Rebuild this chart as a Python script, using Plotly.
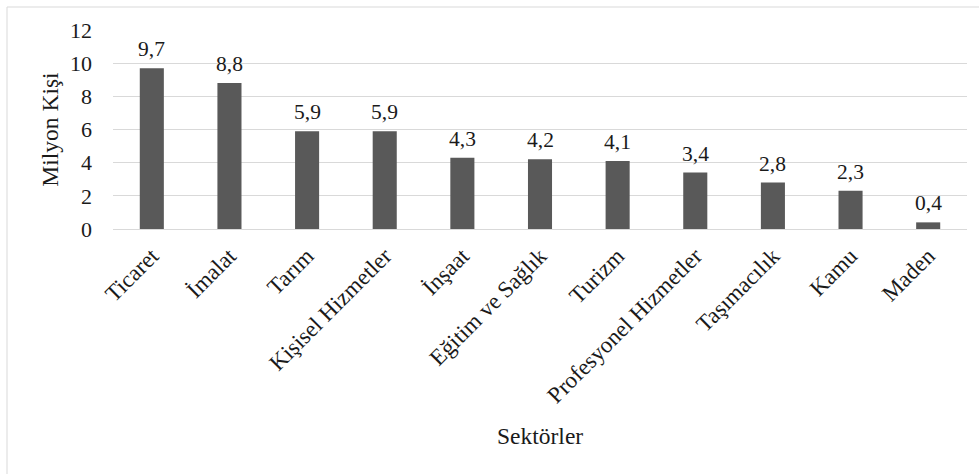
import plotly.graph_objects as go

sectors = ["Ticaret", "İmalat", "Tarım", "Kişisel Hizmetler", "İnşaat",
           "Eğitim ve Sağlık", "Turizm", "Profesyonel Hizmetler",
           "Taşımacılık", "Kamu", "Maden"]
values = [9.7, 8.8, 5.9, 5.9, 4.3, 4.2, 4.1, 3.4, 2.8, 2.3, 0.4]
y_ticks = [0, 2, 4, 6, 8, 10, 12]

labels = [f"{v:.1f}".replace(".", ",") for v in values]

W, H = 979, 474
L, R, T, B = 113, 12, 30, 245
pw, ph = W - L - R, H - T - B

def px_x(x):
    return (x - L) / pw

def px_y(y):
    return (H - B - y) / ph

FONT = "'Liberation Serif', 'Times New Roman', Times, serif"
TXT = "#1a1a1a"

fig = go.Figure(go.Bar(
    x=sectors, y=values,
    marker=dict(color="#595959", line=dict(width=0)),
    hoverinfo="x+y",
))

value_annotations = [
    dict(x=s, y=v, text=t, xref="x", yref="y", showarrow=False,
         xanchor="center", yanchor="bottom", yshift=5,
         font=dict(family=FONT, size=21.5, color=TXT))
    for s, v, t in zip(sectors, values, labels)
]

fig.update_layout(
    width=W, height=H,
    margin=dict(l=L, r=R, t=T, b=B, autoexpand=False),
    plot_bgcolor="white", paper_bgcolor="white",
    bargap=0.69,
    showlegend=False,
    font=dict(family=FONT, size=22, color=TXT),
    xaxis=dict(tickangle=-45, showgrid=False, showline=False, ticks="",
               ticklabelstandoff=8,
               tickfont=dict(family=FONT, size=23, color=TXT),
               automargin=False),
    yaxis=dict(range=[0, 12], tickvals=y_ticks, showgrid=True,
               gridcolor="#d9d9d9", gridwidth=1, zeroline=True,
               zerolinecolor="#d9d9d9", zerolinewidth=1, showline=False,
               ticks="", ticklabelstandoff=20,
               tickfont=dict(family=FONT, size=22, color=TXT),
               title=dict(text="Milyon Kişi", standoff=4,
                          font=dict(family=FONT, size=23.5, color=TXT)),
               automargin=False),
    shapes=[dict(type="rect", xref="paper", yref="paper",
                 x0=px_x(7), x1=px_x(W + 20), y0=px_y(H + 20), y1=px_y(7),
                 line=dict(color="#d9d9d9", width=1), fillcolor="rgba(0,0,0,0)",
                 layer="below")],
    annotations=value_annotations + [
        dict(text="Sektörler", xref="paper", yref="paper",
             x=px_x(540), y=px_y(436), showarrow=False,
             xanchor="center", yanchor="middle",
             font=dict(family=FONT, size=23.5, color=TXT))],
)

fig.write_html("out.html")
